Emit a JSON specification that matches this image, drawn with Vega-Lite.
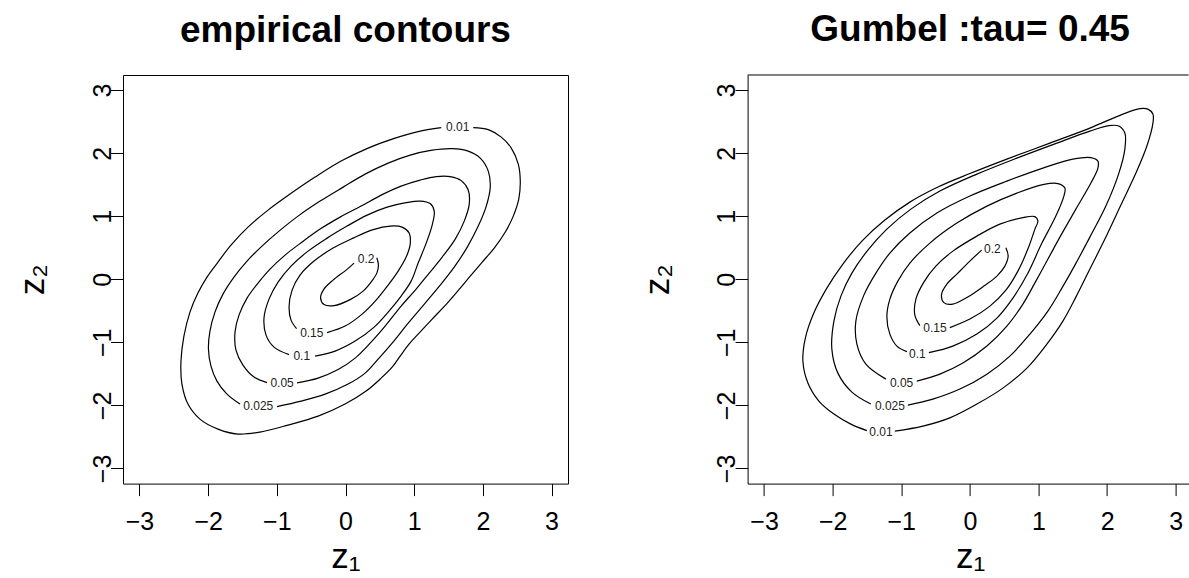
{
"$schema": "https://vega.github.io/schema/vega-lite/v6.json",
"padding": {"left": 15, "top": 11, "right": 0, "bottom": 0},
"background": "white",
"config": {"font": "Liberation Sans", "view": {"stroke": "black", "strokeWidth": 1}},
"bounds": "flush",
"spacing": 179.6,
"datasets": {
"c": [
{"p":"L","l":"0.01","i":1,"x":1.860,"y":2.406},{"p":"L","l":"0.01","i":2,"x":2.079,"y":2.374},{"p":"L","l":"0.01","i":3,"x":2.268,"y":2.255},{"p":"L","l":"0.01","i":4,"x":2.414,"y":2.081},{"p":"L","l":"0.01","i":5,"x":2.516,"y":1.827},{"p":"L","l":"0.01","i":6,"x":2.545,"y":1.557},{"p":"L","l":"0.01","i":7,"x":2.523,"y":1.272},{"p":"L","l":"0.01","i":8,"x":2.443,"y":1.002},{"p":"L","l":"0.01","i":9,"x":2.327,"y":0.749},{"p":"L","l":"0.01","i":10,"x":2.166,"y":0.495},{"p":"L","l":"0.01","i":11,"x":1.991,"y":0.273},{"p":"L","l":"0.01","i":12,"x":1.816,"y":0.051},{"p":"L","l":"0.01","i":13,"x":1.671,"y":-0.140},{"p":"L","l":"0.01","i":14,"x":1.496,"y":-0.362},{"p":"L","l":"0.01","i":15,"x":1.262,"y":-0.631},{"p":"L","l":"0.01","i":16,"x":1.058,"y":-0.869},{"p":"L","l":"0.01","i":17,"x":0.913,"y":-1.044},{"p":"L","l":"0.01","i":18,"x":0.796,"y":-1.218},{"p":"L","l":"0.01","i":19,"x":0.679,"y":-1.393},{"p":"L","l":"0.01","i":20,"x":0.519,"y":-1.567},{"p":"L","l":"0.01","i":21,"x":0.300,"y":-1.773},{"p":"L","l":"0.01","i":22,"x":-0.006,"y":-1.979},{"p":"L","l":"0.01","i":23,"x":-0.399,"y":-2.170},{"p":"L","l":"0.01","i":24,"x":-0.837,"y":-2.312},{"p":"L","l":"0.01","i":25,"x":-1.245,"y":-2.423},{"p":"L","l":"0.01","i":26,"x":-1.566,"y":-2.455},{"p":"L","l":"0.01","i":27,"x":-1.857,"y":-2.376},{"p":"L","l":"0.01","i":28,"x":-2.120,"y":-2.217},{"p":"L","l":"0.01","i":29,"x":-2.294,"y":-1.979},{"p":"L","l":"0.01","i":30,"x":-2.382,"y":-1.662},{"p":"L","l":"0.01","i":31,"x":-2.396,"y":-1.297},{"p":"L","l":"0.01","i":32,"x":-2.353,"y":-0.901},{"p":"L","l":"0.01","i":33,"x":-2.265,"y":-0.520},{"p":"L","l":"0.01","i":34,"x":-2.149,"y":-0.219},{"p":"L","l":"0.01","i":35,"x":-2.017,"y":0.035},{"p":"L","l":"0.01","i":36,"x":-1.857,"y":0.273},{"p":"L","l":"0.01","i":37,"x":-1.668,"y":0.542},{"p":"L","l":"0.01","i":38,"x":-1.420,"y":0.828},{"p":"L","l":"0.01","i":39,"x":-1.128,"y":1.097},{"p":"L","l":"0.01","i":40,"x":-0.808,"y":1.351},{"p":"L","l":"0.01","i":41,"x":-0.443,"y":1.621},{"p":"L","l":"0.01","i":42,"x":-0.064,"y":1.875},{"p":"L","l":"0.01","i":43,"x":0.329,"y":2.081},{"p":"L","l":"0.01","i":44,"x":0.723,"y":2.239},{"p":"L","l":"0.01","i":45,"x":1.058,"y":2.343},{"p":"L","l":"0.01","i":46,"x":1.394,"y":2.406},
{"p":"L","l":"0.025","i":1,"x":-0.997,"y":-2.019},{"p":"L","l":"0.025","i":2,"x":-0.647,"y":-1.932},{"p":"L","l":"0.025","i":3,"x":-0.297,"y":-1.821},{"p":"L","l":"0.025","i":4,"x":0.038,"y":-1.662},{"p":"L","l":"0.025","i":5,"x":0.286,"y":-1.488},{"p":"L","l":"0.025","i":6,"x":0.475,"y":-1.266},{"p":"L","l":"0.025","i":7,"x":0.679,"y":-1.012},{"p":"L","l":"0.025","i":8,"x":0.913,"y":-0.695},{"p":"L","l":"0.025","i":9,"x":1.160,"y":-0.377},{"p":"L","l":"0.025","i":10,"x":1.379,"y":-0.092},{"p":"L","l":"0.025","i":11,"x":1.583,"y":0.193},{"p":"L","l":"0.025","i":12,"x":1.773,"y":0.511},{"p":"L","l":"0.025","i":13,"x":1.933,"y":0.844},{"p":"L","l":"0.025","i":14,"x":2.050,"y":1.161},{"p":"L","l":"0.025","i":15,"x":2.108,"y":1.462},{"p":"L","l":"0.025","i":16,"x":2.079,"y":1.716},{"p":"L","l":"0.025","i":17,"x":1.962,"y":1.922},{"p":"L","l":"0.025","i":18,"x":1.787,"y":2.033},{"p":"L","l":"0.025","i":19,"x":1.554,"y":2.073},{"p":"L","l":"0.025","i":20,"x":1.262,"y":2.049},{"p":"L","l":"0.025","i":21,"x":0.942,"y":1.970},{"p":"L","l":"0.025","i":22,"x":0.621,"y":1.843},{"p":"L","l":"0.025","i":23,"x":0.286,"y":1.668},{"p":"L","l":"0.025","i":24,"x":-0.035,"y":1.462},{"p":"L","l":"0.025","i":25,"x":-0.370,"y":1.240},{"p":"L","l":"0.025","i":26,"x":-0.691,"y":1.002},{"p":"L","l":"0.025","i":27,"x":-0.968,"y":0.764},{"p":"L","l":"0.025","i":28,"x":-1.216,"y":0.527},{"p":"L","l":"0.025","i":29,"x":-1.434,"y":0.289},{"p":"L","l":"0.025","i":30,"x":-1.624,"y":0.035},{"p":"L","l":"0.025","i":31,"x":-1.784,"y":-0.235},{"p":"L","l":"0.025","i":32,"x":-1.901,"y":-0.520},{"p":"L","l":"0.025","i":33,"x":-1.974,"y":-0.822},{"p":"L","l":"0.025","i":34,"x":-1.996,"y":-1.107},{"p":"L","l":"0.025","i":35,"x":-1.959,"y":-1.377},{"p":"L","l":"0.025","i":36,"x":-1.872,"y":-1.615},{"p":"L","l":"0.025","i":37,"x":-1.726,"y":-1.821},{"p":"L","l":"0.025","i":38,"x":-1.536,"y":-1.979},
{"p":"L","l":"0.05","i":1,"x":-0.706,"y":-1.642},{"p":"L","l":"0.05","i":2,"x":-0.399,"y":-1.567},{"p":"L","l":"0.05","i":3,"x":-0.108,"y":-1.432},{"p":"L","l":"0.05","i":4,"x":0.140,"y":-1.250},{"p":"L","l":"0.05","i":5,"x":0.359,"y":-1.012},{"p":"L","l":"0.05","i":6,"x":0.577,"y":-0.742},{"p":"L","l":"0.05","i":7,"x":0.810,"y":-0.425},{"p":"L","l":"0.05","i":8,"x":1.029,"y":-0.155},{"p":"L","l":"0.05","i":9,"x":1.219,"y":0.098},{"p":"L","l":"0.05","i":10,"x":1.408,"y":0.352},{"p":"L","l":"0.05","i":11,"x":1.598,"y":0.638},{"p":"L","l":"0.05","i":12,"x":1.729,"y":0.923},{"p":"L","l":"0.05","i":13,"x":1.802,"y":1.193},{"p":"L","l":"0.05","i":14,"x":1.787,"y":1.415},{"p":"L","l":"0.05","i":15,"x":1.685,"y":1.565},{"p":"L","l":"0.05","i":16,"x":1.525,"y":1.629},{"p":"L","l":"0.05","i":17,"x":1.321,"y":1.629},{"p":"L","l":"0.05","i":18,"x":1.087,"y":1.573},{"p":"L","l":"0.05","i":19,"x":0.810,"y":1.478},{"p":"L","l":"0.05","i":20,"x":0.519,"y":1.335},{"p":"L","l":"0.05","i":21,"x":0.227,"y":1.161},{"p":"L","l":"0.05","i":22,"x":-0.079,"y":0.986},{"p":"L","l":"0.05","i":23,"x":-0.370,"y":0.796},{"p":"L","l":"0.05","i":24,"x":-0.633,"y":0.590},{"p":"L","l":"0.05","i":25,"x":-0.880,"y":0.384},{"p":"L","l":"0.05","i":26,"x":-1.099,"y":0.162},{"p":"L","l":"0.05","i":27,"x":-1.274,"y":-0.060},{"p":"L","l":"0.05","i":28,"x":-1.434,"y":-0.298},{"p":"L","l":"0.05","i":29,"x":-1.551,"y":-0.568},{"p":"L","l":"0.05","i":30,"x":-1.609,"y":-0.837},{"p":"L","l":"0.05","i":31,"x":-1.595,"y":-1.123},{"p":"L","l":"0.05","i":32,"x":-1.493,"y":-1.361},{"p":"L","l":"0.05","i":33,"x":-1.332,"y":-1.551},{"p":"L","l":"0.05","i":34,"x":-1.143,"y":-1.638},
{"p":"L","l":"0.1","i":1,"x":-0.443,"y":-1.218},{"p":"L","l":"0.1","i":2,"x":-0.152,"y":-1.139},{"p":"L","l":"0.1","i":3,"x":0.140,"y":-0.980},{"p":"L","l":"0.1","i":4,"x":0.417,"y":-0.758},{"p":"L","l":"0.1","i":5,"x":0.621,"y":-0.520},{"p":"L","l":"0.1","i":6,"x":0.810,"y":-0.266},{"p":"L","l":"0.1","i":7,"x":0.956,"y":-0.029},{"p":"L","l":"0.1","i":8,"x":1.058,"y":0.257},{"p":"L","l":"0.1","i":9,"x":1.175,"y":0.574},{"p":"L","l":"0.1","i":10,"x":1.262,"y":0.860},{"p":"L","l":"0.1","i":11,"x":1.292,"y":1.082},{"p":"L","l":"0.1","i":12,"x":1.233,"y":1.201},{"p":"L","l":"0.1","i":13,"x":1.087,"y":1.240},{"p":"L","l":"0.1","i":14,"x":0.883,"y":1.216},{"p":"L","l":"0.1","i":15,"x":0.606,"y":1.145},{"p":"L","l":"0.1","i":16,"x":0.315,"y":1.018},{"p":"L","l":"0.1","i":17,"x":0.023,"y":0.844},{"p":"L","l":"0.1","i":18,"x":-0.268,"y":0.653},{"p":"L","l":"0.1","i":19,"x":-0.545,"y":0.447},{"p":"L","l":"0.1","i":20,"x":-0.793,"y":0.209},{"p":"L","l":"0.1","i":21,"x":-0.982,"y":-0.044},{"p":"L","l":"0.1","i":22,"x":-1.114,"y":-0.314},{"p":"L","l":"0.1","i":23,"x":-1.187,"y":-0.615},{"p":"L","l":"0.1","i":24,"x":-1.157,"y":-0.885},{"p":"L","l":"0.1","i":25,"x":-1.041,"y":-1.075},{"p":"L","l":"0.1","i":26,"x":-0.822,"y":-1.194},
{"p":"L","l":"0.15","i":1,"x":-0.268,"y":-0.845},{"p":"L","l":"0.15","i":2,"x":-0.006,"y":-0.742},{"p":"L","l":"0.15","i":3,"x":0.242,"y":-0.552},{"p":"L","l":"0.15","i":4,"x":0.446,"y":-0.330},{"p":"L","l":"0.15","i":5,"x":0.621,"y":-0.092},{"p":"L","l":"0.15","i":6,"x":0.767,"y":0.130},{"p":"L","l":"0.15","i":7,"x":0.883,"y":0.352},{"p":"L","l":"0.15","i":8,"x":0.942,"y":0.558},{"p":"L","l":"0.15","i":9,"x":0.927,"y":0.733},{"p":"L","l":"0.15","i":10,"x":0.825,"y":0.828},{"p":"L","l":"0.15","i":11,"x":0.650,"y":0.844},{"p":"L","l":"0.15","i":12,"x":0.402,"y":0.788},{"p":"L","l":"0.15","i":13,"x":0.111,"y":0.653},{"p":"L","l":"0.15","i":14,"x":-0.181,"y":0.495},{"p":"L","l":"0.15","i":15,"x":-0.458,"y":0.289},{"p":"L","l":"0.15","i":16,"x":-0.662,"y":0.067},{"p":"L","l":"0.15","i":17,"x":-0.778,"y":-0.171},{"p":"L","l":"0.15","i":18,"x":-0.822,"y":-0.441},{"p":"L","l":"0.15","i":19,"x":-0.793,"y":-0.647},{"p":"L","l":"0.15","i":20,"x":-0.713,"y":-0.782},
{"p":"L","l":"0.2","i":1,"x":0.456,"y":0.341},{"p":"L","l":"0.2","i":2,"x":0.480,"y":0.225},{"p":"L","l":"0.2","i":3,"x":0.456,"y":0.098},{"p":"L","l":"0.2","i":4,"x":0.383,"y":-0.029},{"p":"L","l":"0.2","i":5,"x":0.257,"y":-0.187},{"p":"L","l":"0.2","i":6,"x":0.067,"y":-0.322},{"p":"L","l":"0.2","i":7,"x":-0.166,"y":-0.417},{"p":"L","l":"0.2","i":8,"x":-0.312,"y":-0.401},{"p":"L","l":"0.2","i":9,"x":-0.363,"y":-0.298},{"p":"L","l":"0.2","i":10,"x":-0.319,"y":-0.163},{"p":"L","l":"0.2","i":11,"x":-0.181,"y":-0.013},{"p":"L","l":"0.2","i":12,"x":0.009,"y":0.146},{"p":"L","l":"0.2","i":13,"x":0.125,"y":0.257},
{"p":"R","l":"0.01","i":1,"x":-1.093,"y":-2.408},{"p":"R","l":"0.01","i":2,"x":-0.685,"y":-2.328},{"p":"R","l":"0.01","i":3,"x":-0.292,"y":-2.197},{"p":"R","l":"0.01","i":4,"x":0.102,"y":-1.979},{"p":"R","l":"0.01","i":5,"x":0.481,"y":-1.726},{"p":"R","l":"0.01","i":6,"x":0.831,"y":-1.408},{"p":"R","l":"0.01","i":7,"x":1.122,"y":-1.028},{"p":"R","l":"0.01","i":8,"x":1.356,"y":-0.663},{"p":"R","l":"0.01","i":9,"x":1.545,"y":-0.283},{"p":"R","l":"0.01","i":10,"x":1.749,"y":0.162},{"p":"R","l":"0.01","i":11,"x":1.968,"y":0.638},{"p":"R","l":"0.01","i":12,"x":2.201,"y":1.177},{"p":"R","l":"0.01","i":13,"x":2.420,"y":1.684},{"p":"R","l":"0.01","i":14,"x":2.580,"y":2.113},{"p":"R","l":"0.01","i":15,"x":2.668,"y":2.477},{"p":"R","l":"0.01","i":16,"x":2.668,"y":2.620},{"p":"R","l":"0.01","i":17,"x":2.595,"y":2.699},{"p":"R","l":"0.01","i":18,"x":2.478,"y":2.707},{"p":"R","l":"0.01","i":19,"x":2.230,"y":2.620},{"p":"R","l":"0.01","i":20,"x":1.749,"y":2.398},{"p":"R","l":"0.01","i":21,"x":1.166,"y":2.160},{"p":"R","l":"0.01","i":22,"x":0.539,"y":1.906},{"p":"R","l":"0.01","i":23,"x":0.000,"y":1.677},{"p":"R","l":"0.01","i":24,"x":-0.466,"y":1.463},{"p":"R","l":"0.01","i":25,"x":-0.875,"y":1.224},{"p":"R","l":"0.01","i":26,"x":-1.239,"y":0.939},{"p":"R","l":"0.01","i":27,"x":-1.574,"y":0.606},{"p":"R","l":"0.01","i":28,"x":-1.851,"y":0.241},{"p":"R","l":"0.01","i":29,"x":-2.085,"y":-0.140},{"p":"R","l":"0.01","i":30,"x":-2.275,"y":-0.536},{"p":"R","l":"0.01","i":31,"x":-2.398,"y":-0.933},{"p":"R","l":"0.01","i":32,"x":-2.434,"y":-1.297},{"p":"R","l":"0.01","i":33,"x":-2.361,"y":-1.646},{"p":"R","l":"0.01","i":34,"x":-2.201,"y":-1.932},{"p":"R","l":"0.01","i":35,"x":-1.982,"y":-2.138},{"p":"R","l":"0.01","i":36,"x":-1.735,"y":-2.297},{"p":"R","l":"0.01","i":37,"x":-1.501,"y":-2.400},
{"p":"R","l":"0.025","i":1,"x":-0.904,"y":-1.995},{"p":"R","l":"0.025","i":2,"x":-0.539,"y":-1.900},{"p":"R","l":"0.025","i":3,"x":-0.146,"y":-1.741},{"p":"R","l":"0.025","i":4,"x":0.248,"y":-1.504},{"p":"R","l":"0.025","i":5,"x":0.583,"y":-1.218},{"p":"R","l":"0.025","i":6,"x":0.875,"y":-0.869},{"p":"R","l":"0.025","i":7,"x":1.137,"y":-0.504},{"p":"R","l":"0.025","i":8,"x":1.341,"y":-0.140},{"p":"R","l":"0.025","i":9,"x":1.531,"y":0.225},{"p":"R","l":"0.025","i":10,"x":1.749,"y":0.669},{"p":"R","l":"0.025","i":11,"x":1.982,"y":1.161},{"p":"R","l":"0.025","i":12,"x":2.172,"y":1.684},{"p":"R","l":"0.025","i":13,"x":2.259,"y":2.065},{"p":"R","l":"0.025","i":14,"x":2.259,"y":2.319},{"p":"R","l":"0.025","i":15,"x":2.172,"y":2.430},{"p":"R","l":"0.025","i":16,"x":2.026,"y":2.438},{"p":"R","l":"0.025","i":17,"x":1.749,"y":2.350},{"p":"R","l":"0.025","i":18,"x":1.268,"y":2.160},{"p":"R","l":"0.025","i":19,"x":0.685,"y":1.922},{"p":"R","l":"0.025","i":20,"x":0.102,"y":1.668},{"p":"R","l":"0.025","i":21,"x":-0.437,"y":1.399},{"p":"R","l":"0.025","i":22,"x":-0.860,"y":1.113},{"p":"R","l":"0.025","i":23,"x":-1.210,"y":0.796},{"p":"R","l":"0.025","i":24,"x":-1.487,"y":0.463},{"p":"R","l":"0.025","i":25,"x":-1.720,"y":0.098},{"p":"R","l":"0.025","i":26,"x":-1.880,"y":-0.267},{"p":"R","l":"0.025","i":27,"x":-1.982,"y":-0.663},{"p":"R","l":"0.025","i":28,"x":-2.012,"y":-1.107},{"p":"R","l":"0.025","i":29,"x":-1.924,"y":-1.488},{"p":"R","l":"0.025","i":30,"x":-1.720,"y":-1.789},{"p":"R","l":"0.025","i":31,"x":-1.443,"y":-1.979},
{"p":"R","l":"0.05","i":1,"x":-0.773,"y":-1.615},{"p":"R","l":"0.05","i":2,"x":-0.437,"y":-1.504},{"p":"R","l":"0.05","i":3,"x":-0.102,"y":-1.329},{"p":"R","l":"0.05","i":4,"x":0.248,"y":-1.059},{"p":"R","l":"0.05","i":5,"x":0.539,"y":-0.742},{"p":"R","l":"0.05","i":6,"x":0.773,"y":-0.393},{"p":"R","l":"0.05","i":7,"x":0.962,"y":-0.029},{"p":"R","l":"0.05","i":8,"x":1.122,"y":0.289},{"p":"R","l":"0.05","i":9,"x":1.312,"y":0.669},{"p":"R","l":"0.05","i":10,"x":1.545,"y":1.113},{"p":"R","l":"0.05","i":11,"x":1.764,"y":1.526},{"p":"R","l":"0.05","i":12,"x":1.866,"y":1.764},{"p":"R","l":"0.05","i":13,"x":1.866,"y":1.875},{"p":"R","l":"0.05","i":14,"x":1.764,"y":1.930},{"p":"R","l":"0.05","i":15,"x":1.501,"y":1.906},{"p":"R","l":"0.05","i":16,"x":1.064,"y":1.764},{"p":"R","l":"0.05","i":17,"x":0.539,"y":1.557},{"p":"R","l":"0.05","i":18,"x":0.000,"y":1.320},{"p":"R","l":"0.05","i":19,"x":-0.481,"y":1.050},{"p":"R","l":"0.05","i":20,"x":-0.875,"y":0.733},{"p":"R","l":"0.05","i":21,"x":-1.166,"y":0.416},{"p":"R","l":"0.05","i":22,"x":-1.370,"y":0.098},{"p":"R","l":"0.05","i":23,"x":-1.545,"y":-0.251},{"p":"R","l":"0.05","i":24,"x":-1.662,"y":-0.663},{"p":"R","l":"0.05","i":25,"x":-1.647,"y":-1.028},{"p":"R","l":"0.05","i":26,"x":-1.516,"y":-1.345},{"p":"R","l":"0.05","i":27,"x":-1.224,"y":-1.583},
{"p":"R","l":"0.1","i":1,"x":-0.598,"y":-1.163},{"p":"R","l":"0.1","i":2,"x":-0.248,"y":-1.059},{"p":"R","l":"0.1","i":3,"x":0.102,"y":-0.869},{"p":"R","l":"0.1","i":4,"x":0.394,"y":-0.615},{"p":"R","l":"0.1","i":5,"x":0.627,"y":-0.298},{"p":"R","l":"0.1","i":6,"x":0.831,"y":0.067},{"p":"R","l":"0.1","i":7,"x":1.050,"y":0.574},{"p":"R","l":"0.1","i":8,"x":1.253,"y":1.002},{"p":"R","l":"0.1","i":9,"x":1.370,"y":1.320},{"p":"R","l":"0.1","i":10,"x":1.385,"y":1.446},{"p":"R","l":"0.1","i":11,"x":1.283,"y":1.518},{"p":"R","l":"0.1","i":12,"x":1.064,"y":1.502},{"p":"R","l":"0.1","i":13,"x":0.685,"y":1.367},{"p":"R","l":"0.1","i":14,"x":0.248,"y":1.161},{"p":"R","l":"0.1","i":15,"x":-0.190,"y":0.891},{"p":"R","l":"0.1","i":16,"x":-0.583,"y":0.574},{"p":"R","l":"0.1","i":17,"x":-0.875,"y":0.257},{"p":"R","l":"0.1","i":18,"x":-1.050,"y":-0.029},{"p":"R","l":"0.1","i":19,"x":-1.166,"y":-0.314},{"p":"R","l":"0.1","i":20,"x":-1.210,"y":-0.584},{"p":"R","l":"0.1","i":21,"x":-1.166,"y":-0.869},{"p":"R","l":"0.1","i":22,"x":-1.064,"y":-1.059},{"p":"R","l":"0.1","i":23,"x":-0.918,"y":-1.147},
{"p":"R","l":"0.15","i":1,"x":-0.292,"y":-0.766},{"p":"R","l":"0.15","i":2,"x":0.000,"y":-0.631},{"p":"R","l":"0.15","i":3,"x":0.292,"y":-0.425},{"p":"R","l":"0.15","i":4,"x":0.525,"y":-0.172},{"p":"R","l":"0.15","i":5,"x":0.700,"y":0.130},{"p":"R","l":"0.15","i":6,"x":0.845,"y":0.479},{"p":"R","l":"0.15","i":7,"x":0.948,"y":0.796},{"p":"R","l":"0.15","i":8,"x":0.991,"y":0.923},{"p":"R","l":"0.15","i":9,"x":0.948,"y":0.994},{"p":"R","l":"0.15","i":10,"x":0.773,"y":0.979},{"p":"R","l":"0.15","i":11,"x":0.437,"y":0.875},{"p":"R","l":"0.15","i":12,"x":0.102,"y":0.685},{"p":"R","l":"0.15","i":13,"x":-0.248,"y":0.447},{"p":"R","l":"0.15","i":14,"x":-0.496,"y":0.209},{"p":"R","l":"0.15","i":15,"x":-0.671,"y":-0.044},{"p":"R","l":"0.15","i":16,"x":-0.787,"y":-0.314},{"p":"R","l":"0.15","i":17,"x":-0.802,"y":-0.568},{"p":"R","l":"0.15","i":18,"x":-0.729,"y":-0.734},
{"p":"R","l":"0.2","i":1,"x":0.525,"y":0.500},{"p":"R","l":"0.2","i":2,"x":0.558,"y":0.368},{"p":"R","l":"0.2","i":3,"x":0.510,"y":0.209},{"p":"R","l":"0.2","i":4,"x":0.394,"y":0.051},{"p":"R","l":"0.2","i":5,"x":0.204,"y":-0.108},{"p":"R","l":"0.2","i":6,"x":-0.044,"y":-0.290},{"p":"R","l":"0.2","i":7,"x":-0.248,"y":-0.393},{"p":"R","l":"0.2","i":8,"x":-0.379,"y":-0.370},{"p":"R","l":"0.2","i":9,"x":-0.413,"y":-0.239},{"p":"R","l":"0.2","i":10,"x":-0.335,"y":-0.076},{"p":"R","l":"0.2","i":11,"x":-0.190,"y":0.082},{"p":"R","l":"0.2","i":12,"x":0.000,"y":0.289},{"p":"R","l":"0.2","i":13,"x":0.171,"y":0.463}
],
"lab": [
{"p":"L","t":"0.01","x":1.633,"y":2.409},{"p":"L","t":"0.025","x":-1.270,"y":-2.005},{"p":"L","t":"0.05","x":-0.924,"y":-1.651},{"p":"L","t":"0.1","x":-0.637,"y":-1.218},{"p":"L","t":"0.15","x":-0.491,"y":-0.849},{"p":"L","t":"0.2","x":0.300,"y":0.316},
{"p":"R","t":"0.01","x":-1.297,"y":-2.419},{"p":"R","t":"0.025","x":-1.166,"y":-2.011},{"p":"R","t":"0.05","x":-0.996,"y":-1.642},{"p":"R","t":"0.1","x":-0.765,"y":-1.182},{"p":"R","t":"0.15","x":-0.510,"y":-0.779},{"p":"R","t":"0.2","x":0.328,"y":0.474}
]
},
"hconcat": [
{
"width": 445, "height": 408.6,
"title": {"text": "empirical contours", "fontSize": 37, "fontWeight": "bold", "font": "Liberation Sans", "color": "black", "baseline": "alphabetic", "offset": -4, "anchor": "middle"},
"layer": [
{"data": {"name": "c"}, "transform": [{"filter": "datum.p == 'L'"}],
 "mark": {"type": "line", "interpolate": "catmull-rom", "color": "black", "strokeWidth": 1.2},
 "encoding": {
  "x": {"field": "x", "type": "quantitative", "scale": {"domain": [-3.24, 3.24], "nice": false, "zero": false},
   "axis": {"title": "z₁", "values": [-3,-2,-1,0,1,2,3], "format": "d", "grid": false, "domain": false, "tickSize": 12, "tickColor": "black", "tickWidth": 1, "labelFontSize": 25, "labelFont": "Liberation Sans", "labelColor": "black", "labelBaseline": "alphabetic", "labelPadding": 34, "labelFlush": false, "labelOverlap": false, "titleFont": "Liberation Sans", "titleFontSize": 35, "titleFontWeight": "normal", "titleColor": "black", "titleBaseline": "alphabetic", "titleX": 222.5, "titleY": 83.6}},
  "y": {"field": "y", "type": "quantitative", "scale": {"domain": [-3.24, 3.24], "nice": false, "zero": false},
   "axis": {"title": "z₂", "values": [-3,-2,-1,0,1,2,3], "format": "d", "grid": false, "domain": false, "tickSize": 12.5, "tickColor": "black", "tickWidth": 1, "labelFontSize": 25, "labelFont": "Liberation Sans", "labelColor": "black", "labelAngle": -90, "labelAlign": "center", "labelBaseline": "alphabetic", "labelPadding": 0.5, "labelFlush": false, "labelOverlap": false, "titleFont": "Liberation Sans", "titleFontSize": 35, "titleFontWeight": "normal", "titleColor": "black", "titleAngle": -90, "titleBaseline": "alphabetic", "titleAlign": "center", "titleX": -79.4, "titleY": 204.3}},
  "detail": {"field": "l", "type": "nominal"},
  "order": {"field": "i", "type": "quantitative"}
 }},
{"data": {"name": "lab"}, "transform": [{"filter": "datum.p == 'L'"}],
 "mark": {"type": "text", "fontSize": 12, "font": "Liberation Sans", "color": "#222", "baseline": "middle", "align": "center"},
 "encoding": {"x": {"field": "x", "type": "quantitative"}, "y": {"field": "y", "type": "quantitative"}, "text": {"field": "t", "type": "nominal"}}}
]
},
{
"width": 441, "height": 408.6,
"view": {"stroke": null},
"title": {"text": "Gumbel :tau= 0.45", "fontSize": 37, "fontWeight": "bold", "font": "Liberation Sans", "color": "black", "baseline": "alphabetic", "offset": -4, "anchor": "middle", "dx": 2},
"layer": [
{"data": {"name": "c"}, "transform": [{"filter": "datum.p == 'R'"}],
 "mark": {"type": "line", "interpolate": "catmull-rom", "color": "black", "strokeWidth": 1.2},
 "encoding": {
  "x": {"field": "x", "type": "quantitative", "scale": {"domain": [-3.24, 3.188], "nice": false, "zero": false},
   "axis": {"title": "z₁", "values": [-3,-2,-1,0,1,2,3], "format": "d", "grid": false, "domain": true, "domainColor": "black", "domainWidth": 1, "tickSize": 12, "tickColor": "black", "tickWidth": 1, "labelFontSize": 25, "labelFont": "Liberation Sans", "labelColor": "black", "labelBaseline": "alphabetic", "labelPadding": 34, "labelFlush": false, "labelOverlap": false, "titleFont": "Liberation Sans", "titleFontSize": 35, "titleFontWeight": "normal", "titleColor": "black", "titleBaseline": "alphabetic", "titleX": 222.5, "titleY": 83.6}},
  "y": {"field": "y", "type": "quantitative", "scale": {"domain": [-3.24, 3.24], "nice": false, "zero": false},
   "axis": {"title": "z₂", "values": [-3,-2,-1,0,1,2,3], "format": "d", "grid": false, "domain": true, "domainColor": "black", "domainWidth": 1, "tickSize": 12.5, "tickColor": "black", "tickWidth": 1, "labelFontSize": 25, "labelFont": "Liberation Sans", "labelColor": "black", "labelAngle": -90, "labelAlign": "center", "labelBaseline": "alphabetic", "labelPadding": 0.5, "labelFlush": false, "labelOverlap": false, "titleFont": "Liberation Sans", "titleFontSize": 35, "titleFontWeight": "normal", "titleColor": "black", "titleAngle": -90, "titleBaseline": "alphabetic", "titleAlign": "center", "titleX": -79.4, "titleY": 204.3}},
  "detail": {"field": "l", "type": "nominal"},
  "order": {"field": "i", "type": "quantitative"}
 }},
{"data": {"name": "lab"}, "transform": [{"filter": "datum.p == 'R'"}],
 "mark": {"type": "text", "fontSize": 12, "font": "Liberation Sans", "color": "#222", "baseline": "middle", "align": "center"},
 "encoding": {"x": {"field": "x", "type": "quantitative"}, "y": {"field": "y", "type": "quantitative"}, "text": {"field": "t", "type": "nominal"}}},
{"data": {"values": [{}]}, "mark": {"type": "rule", "color": "black", "strokeWidth": 1}, "encoding": {"y": {"datum": 3.24}}}
]
}
]
}
